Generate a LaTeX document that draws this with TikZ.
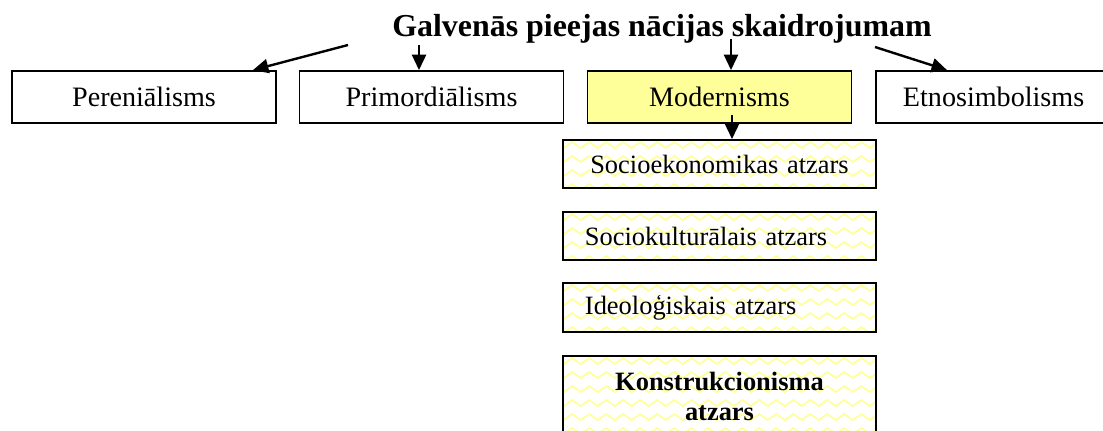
\documentclass[tikz,border=0pt]{standalone}
\usepackage{fontspec}
\setmainfont{Liberation Serif}
\usetikzlibrary{arrows.meta,decorations.pathmorphing}
\definecolor{modyellow}{HTML}{FFFF99}
\definecolor{zigyellow}{HTML}{FFFF9E}
\begin{document}
\begin{tikzpicture}[x=0.025cm, y=-0.025cm,
        mainbox/.style={draw, line width=1.3pt, minimum width=6.6cm, minimum height=1.3cm,
            inner sep=0pt, font=\fontsize{20}{24}\selectfont},
        zigline/.style={decorate, decoration={zigzag, segment length=0.425cm, amplitude=0.075cm},
            zigyellow, line width=1.3pt},
        subbox/.style={draw, line width=1.3pt, minimum width=7.825cm, minimum height=1.2cm,
            inner xsep=0.55cm, inner ysep=0pt, text width=6.725cm,
            font=\fontsize{18.8}{21.3}\selectfont,
            path picture={\foreach \r in {0,...,8}
                \draw[zigline] ([xshift=-0.3cm, yshift=-0.125cm-\r*0.35cm]path picture bounding box.north west) -- ++(360,0);}},
        arr/.style={line width=1.7pt, -{Triangle[length=11pt, width=10pt]}}]
    \clip (0,0) rectangle (1103,430);

    % Title
    \node[anchor=base, font=\fontsize{22.7}{27}\selectfont\bfseries] (title) at (662,36)
        {Galvenās pieejas nācijas skaidrojumam};

    % Approaches
    \node[mainbox] (pere) at (144,97) {Pereniālisms};
    \node[mainbox] (prim) at (431.5,97) {Primordiālisms};
    \node[mainbox, fill=modyellow] (mod) at (719.5,97) {Modernisms};
    \node[mainbox, anchor=west, inner xsep=0.675cm, text width=5.25cm, align=left] (etno) at (875,97)
        {Etnosimbolisms};

    % Branches of modernism
    \node[subbox, align=center] (sub1) at (719.5,164) {Socioekonomikas atzars};
    \node[subbox, align=left] (sub2) at (719.5,236) {Sociokulturālais atzars};
    \node[subbox, align=left, minimum height=1.225cm] (sub3) at (719.5,307.5) {Ideoloģiskais atzars};
    \node[subbox, align=center, minimum height=2cm, font=\fontsize{18.8}{21.3}\selectfont\bfseries]
        (sub4) at (719.5,396) {Konstrukcionisma\\atzars};

    % Arrows
    \coordinate (a0) at (348,45);
    \coordinate (a1) at (419,45);
    \coordinate (a2) at (731,39);
    \coordinate (a3) at (875,47);
    \coordinate (a4) at (732,115);
    \draw[arr] (a0) -- ([xshift=-0.6cm]pere.north east);
    \draw[arr] (a1) -- (a1 |- prim.north);
    \draw[arr] (a2) -- (a2 |- mod.north);
    \draw[arr] (a3) -- ([xshift=1.8cm]etno.north west);
    \draw[arr] (a4) -- (a4 |- sub1.north);
\end{tikzpicture}
\end{document}
